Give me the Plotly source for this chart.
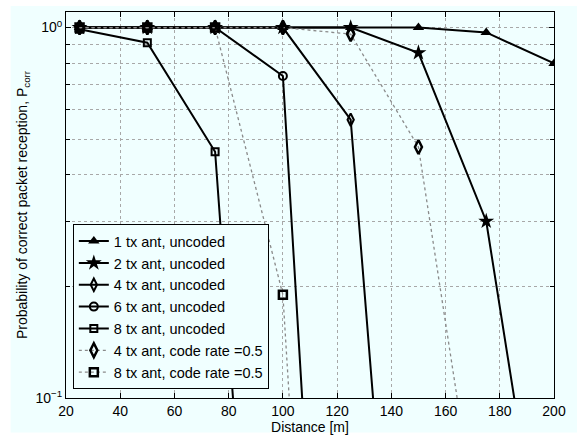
import plotly.graph_objects as go

# Transmitter-to-receiver distance in metres
distance = [25, 50, 75, 100, 125, 150, 175, 200]

# Probability of correct packet reception per configuration
p_1tx = [1.0, 1.0, 1.0, 1.0, 1.0, 1.0, 0.97, 0.80]
p_2tx = [1.0, 1.0, 1.0, 1.0, 1.0, 0.855, 0.30, 0.021]
p_4tx = [1.0, 1.0, 1.0, 1.0, 0.564, 0.003, None, None]
p_6tx = [1.0, 1.0, 1.0, 0.74, 0.00065, None, None, None]
p_8tx = [0.99, 0.91, 0.462, 0.0014, None, None, None, None]
p_4tx_coded = [1.0, 1.0, 1.0, 1.0, 0.96, 0.476, 0.031, None]
p_8tx_coded = [1.0, 1.0, 1.0, 0.19, 0.0002, None, None, None]

x_ticks = [20, 40, 60, 80, 100, 120, 140, 160, 180, 200]
y_major = [0.1, 1.0]
y_major_text = ["10<sup>\u22121</sup>", "10<sup>0</sup>"]
y_minor = [0.2, 0.3, 0.4, 0.5, 0.6, 0.7, 0.8, 0.9]

BG = "#f0ffff"
FONT = "Liberation Sans, Arial, Helvetica, sans-serif"
GRID = "#a8a8a8"

fig = go.Figure()

uncoded = [
    ("1 tx ant, uncoded", p_1tx, dict(symbol="triangle-up", size=10, color="black")),
    ("2 tx ant, uncoded", p_2tx, dict(symbol="star", size=12, color="black")),
    ("4 tx ant, uncoded", p_4tx, dict(symbol="diamond-tall-open", size=9, color="black",
                                      line=dict(width=2, color="black"))),
    ("6 tx ant, uncoded", p_6tx, dict(symbol="circle-open", size=8, color="black",
                                      line=dict(width=2, color="black"))),
    ("8 tx ant, uncoded", p_8tx, dict(symbol="square-open", size=7, color="black",
                                      line=dict(width=2, color="black"))),
]
for name, vals, marker in uncoded:
    fig.add_trace(go.Scatter(
        x=distance, y=vals, name=name, mode="lines+markers",
        line=dict(color="black", width=2), marker=marker,
    ))

coded = [
    ("4 tx ant, code rate =0.5", p_4tx_coded, dict(symbol="diamond-tall-open", size=10, color="black",
                                                   line=dict(width=2.5, color="black"))),
    ("8 tx ant, code rate =0.5", p_8tx_coded, dict(symbol="square-open", size=8, color="black",
                                                   line=dict(width=2.5, color="black"))),
]
for name, vals, marker in coded:
    fig.add_trace(go.Scatter(
        x=distance, y=vals, name=name, mode="lines+markers",
        line=dict(color="#8a8a8a", width=1.3, dash="dot"), marker=marker,
    ))

# Light figure background framed by a thin white border
fig.add_shape(type="rect", xref="paper", yref="paper",
              x0=-0.1134, x1=1.05, y0=-0.0895, y1=1.0153,
              fillcolor=BG, line=dict(width=0), layer="below")

axis_common = dict(
    showline=True, linecolor="black", linewidth=1, mirror="ticks",
    ticks="inside", ticklen=5, tickcolor="black",
    showgrid=True, gridcolor=GRID, griddash="dot", gridwidth=1,
    zeroline=False, tickfont=dict(family=FONT, size=14, color="black"),
)

fig.update_xaxes(
    range=[20, 200], tickvals=x_ticks,
    title=dict(text="Distance [m]", font=dict(family=FONT, size=14, color="black"), standoff=1),
    **axis_common,
)
fig.update_yaxes(
    type="log", range=[-1, 0.042], tickvals=y_major, ticktext=y_major_text,
    minor=dict(tickvals=y_minor, ticks="inside", ticklen=4, tickcolor="black",
               showgrid=True, gridcolor=GRID, griddash="dot", gridwidth=1),
    title=dict(text="Probability of correct packet reception, P<sub>corr</sub>",
               font=dict(family=FONT, size=14, color="black"), standoff=4),
    **axis_common,
)

fig.update_layout(
    width=577, height=441,
    margin=dict(l=66, r=17, t=11, b=39),
    paper_bgcolor="white", plot_bgcolor=BG,
    font=dict(family=FONT, size=14, color="black"),
    showlegend=True,
    legend=dict(
        x=0.014, y=0.023, xanchor="left", yanchor="bottom",
        bgcolor=BG, bordercolor="black", borderwidth=1,
        font=dict(family=FONT, size=14.5, color="black"),
        tracegroupgap=0, itemwidth=30,
    ),
)

fig.write_html("out.html")
